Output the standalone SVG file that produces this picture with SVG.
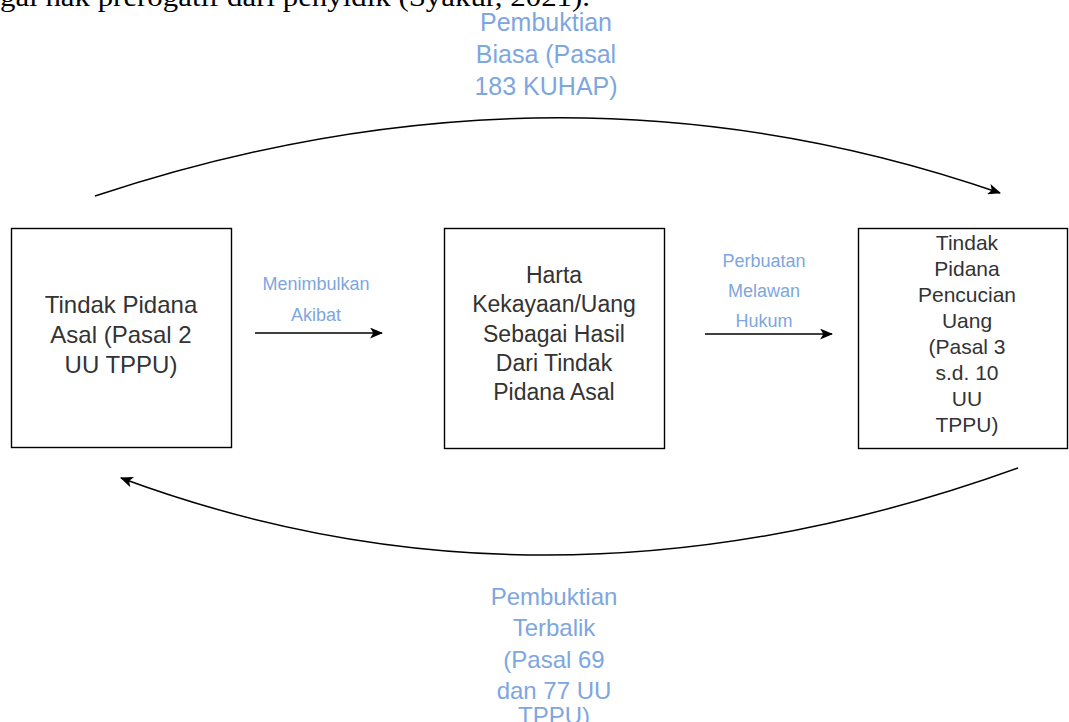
<svg xmlns="http://www.w3.org/2000/svg" width="1069" height="722" viewBox="0 0 1069 722">
<style>
.box{fill:#fff;stroke:#000;stroke-width:1.4}
.t{font-family:"Liberation Sans",Arial,sans-serif;fill:#333;text-anchor:middle}
.b{font-family:"Liberation Sans",Arial,sans-serif;fill:#7EA6E0;text-anchor:middle}
.edge{fill:none;stroke:#000;stroke-width:1.5}
.src{font-family:"Liberation Serif","Times New Roman",serif;fill:#000;font-size:28px}
</style>
<defs>
<marker id="arr" viewBox="0 0 12 10" refX="11" refY="5" markerWidth="13" markerHeight="11" markerUnits="userSpaceOnUse" orient="auto">
<path d="M0,0 L12,5 L0,10 L3,5 Z" fill="#000"/>
</marker>
</defs>
<rect width="1069" height="722" fill="#fff"/>
<text class="src" x="0" y="6" textLength="590" lengthAdjust="spacingAndGlyphs">gai hak prerogatif dari penyidik (Syakur, 2021).</text>

<g id="node-asal">
<rect class="box" x="11.5" y="228.5" width="220" height="219"/>
<text class="t" font-size="24"><tspan x="121" y="313">Tindak Pidana</tspan><tspan x="121" y="343">Asal (Pasal 2</tspan><tspan x="121" y="373">UU TPPU)</tspan></text>
</g>
<g id="node-harta">
<rect class="box" x="444.5" y="228.5" width="220" height="220"/>
<text class="t" font-size="23"><tspan x="554" y="283">Harta</tspan><tspan x="554" y="312">Kekayaan/Uang</tspan><tspan x="554" y="342">Sebagai Hasil</tspan><tspan x="554" y="371">Dari Tindak</tspan><tspan x="554" y="400">Pidana Asal</tspan></text>
</g>
<g id="node-tppu">
<rect class="box" x="858.5" y="228.5" width="209" height="220"/>
<text class="t" font-size="21"><tspan x="967" y="250">Tindak</tspan><tspan x="967" y="276">Pidana</tspan><tspan x="967" y="302">Pencucian</tspan><tspan x="967" y="328">Uang</tspan><tspan x="967" y="354">(Pasal 3</tspan><tspan x="967" y="380">s.d. 10</tspan><tspan x="967" y="406">UU</tspan><tspan x="967" y="432">TPPU)</tspan></text>
</g>

<g id="connectors">
<path class="edge" d="M255,333 L382,333" marker-end="url(#arr)"/>
<path class="edge" d="M705,334 L832,334" marker-end="url(#arr)"/>
<path class="edge" d="M95,196 Q562,41 1000,193" marker-end="url(#arr)"/>
<path class="edge" d="M1018,468 Q550,637 121,478" marker-end="url(#arr)"/>
</g>

<g id="labels">
<text class="b" font-size="18"><tspan x="316" y="290">Menimbulkan</tspan><tspan x="316" y="321">Akibat</tspan></text>
<text class="b" font-size="18"><tspan x="764" y="267">Perbuatan</tspan><tspan x="764" y="297">Melawan</tspan><tspan x="764" y="327">Hukum</tspan></text>
<text class="b" font-size="25"><tspan x="546" y="31">Pembuktian</tspan><tspan x="546" y="63">Biasa (Pasal</tspan><tspan x="546" y="95">183 KUHAP)</tspan></text>
<text class="b" font-size="24"><tspan x="554" y="605">Pembuktian</tspan><tspan x="554" y="636">Terbalik</tspan><tspan x="554" y="668">(Pasal 69</tspan><tspan x="554" y="699">dan 77 UU</tspan><tspan x="554" y="724">TPPU)</tspan></text>
</g>
</svg>
